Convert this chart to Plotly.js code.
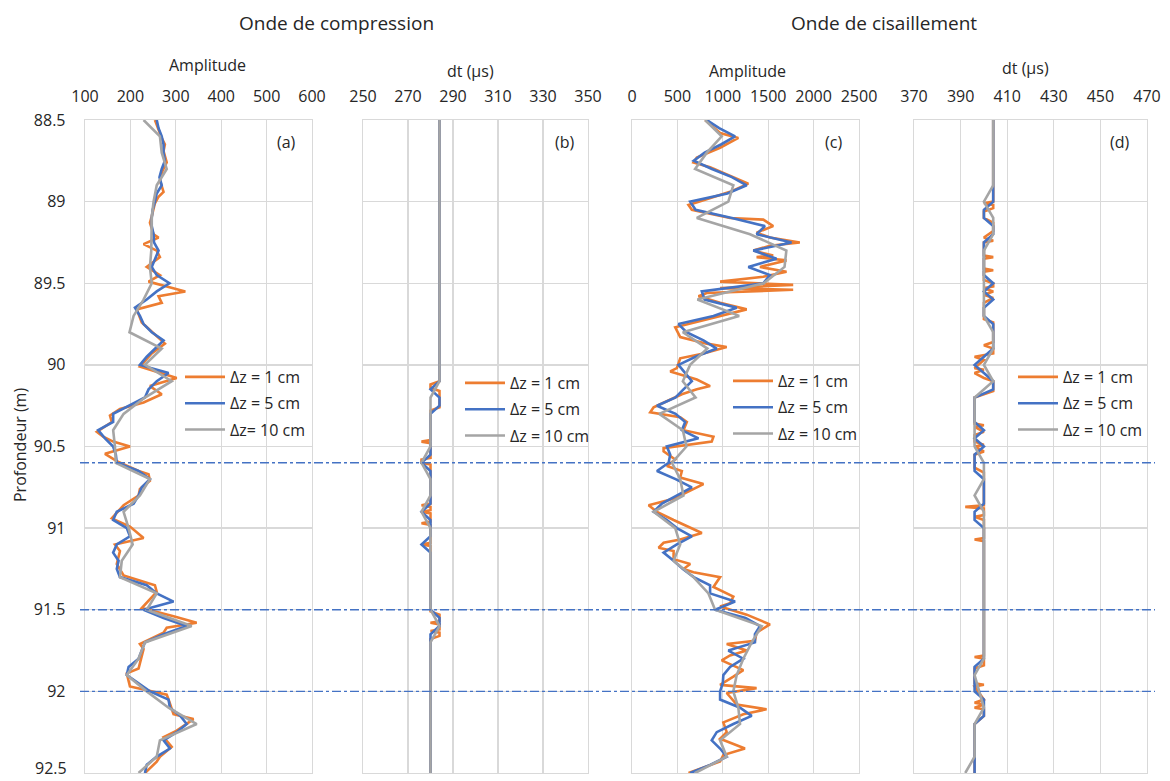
<!DOCTYPE html>
<html>
<head>
<meta charset="utf-8">
<script src="https://cdn.plot.ly/plotly-3.0.1.min.js"></script>
<style>html,body{margin:0;padding:0;background:#fff;}#chart{width:1170px;height:781px;}</style>
</head>
<body>
<div id="chart"></div>
<script>
// ---------- depths ----------
const depth5 = [88.50,88.55,88.60,88.65,88.70,88.75,88.80,88.85,88.90,88.95,89.00,89.05,89.10,89.15,89.20,89.25,89.30,89.35,89.40,89.45,89.50,89.55,89.60,89.65,89.70,89.75,89.80,89.85,89.90,89.95,90.00,90.05,90.10,90.15,90.20,90.25,90.30,90.35,90.40,90.45,90.50,90.55,90.60,90.65,90.70,90.75,90.80,90.85,90.90,90.95,91.00,91.05,91.10,91.15,91.20,91.25,91.30,91.35,91.40,91.45,91.50,91.55,91.60,91.65,91.70,91.75,91.80,91.85,91.90,91.95,92.00,92.05,92.10,92.15,92.20,92.25,92.30,92.35,92.40,92.45,92.50];
const depth10 = [88.5,88.6,88.7,88.8,88.9,89.0,89.1,89.2,89.3,89.4,89.5,89.6,89.7,89.8,89.9,90.0,90.1,90.2,90.3,90.4,90.5,90.6,90.7,90.8,90.9,91.0,91.1,91.2,91.3,91.4,91.5,91.6,91.7,91.8,91.9,92.0,92.1,92.2,92.3,92.4,92.5];

// ---------- (a) P-wave amplitude ----------
const ampP_1cm_depth = [88.50,88.56,88.61,88.65,88.69,88.76,88.81,88.87,88.94,88.97,89.01,89.09,89.13,89.20,89.22,89.26,89.30,89.34,89.40,89.45,89.49,89.52,89.55,89.58,89.62,89.66,89.74,89.87,89.93,90.01,90.08,90.13,90.18,90.23,90.27,90.31,90.35,90.41,90.44,90.47,90.50,90.545,90.59,90.65,90.67,90.71,90.76,90.80,90.86,90.94,90.99,91.06,91.10,91.14,91.22,91.29,91.35,91.39,91.49,91.54,91.58,91.61,91.64,91.71,91.74,91.86,91.89,91.97,92.02,92.05,92.14,92.17,92.24,92.28,92.34,92.40,92.43,92.49,92.50];
const ampP_1cm = [254,262,269,276,273,280,271,265,273,262,254,247,243,251,262,229,258,265,236,265,240,280,321,262,269,214,225,276,247,221,302,243,269,229,177,155,159,126,140,162,199,144,170,218,240,243,221,218,185,159,199,229,166,177,170,185,254,258,225,295,346,280,273,221,229,218,192,199,280,284,295,339,302,273,291,265,258,236,232];
const ampP_5cm = [258,262,269,273,273,276,269,264,269,258,254,249,247,247,251,252,262,254,247,258,286,258,236,210,221,229,247,273,254,236,221,284,258,240,232,196,162,162,129,144,162,168,170,218,243,225,218,207,170,162,192,199,170,162,174,170,177,236,258,295,229,273,324,273,232,225,218,196,192,218,243,284,287,310,324,302,273,287,258,236,232];
const ampP_10cm = [229,265,269,280,258,251,247,247,246,243,247,229,207,198,269,232,291,232,185,162,166,168,243,221,185,196,205,181,177,258,236,335,232,218,192,236,284,346,265,258,218];

// ---------- (b) P-wave dt ----------
const dtP_1cm_depth = [88.50,90.10,90.12,90.14,90.16,90.26,90.28,90.46,90.47,90.48,90.57,90.58,90.60,90.61,90.85,90.86,90.87,90.89,90.90,90.91,90.96,90.97,90.98,91.09,91.10,91.11,91.51,91.53,91.57,91.58,91.59,91.62,91.63,91.64,91.66,91.68,92.50];
const dtP_1cm = [284,284,280,280,284,284,280,280,276,280,280,276,276,280,280,276,280,280,276,280,280,276,280,280,276,280,280,284,284,280,284,284,280,284,284,280,280];
const dtP_5cm = [284,284,284,284,284,284,284,284,284,284,284,284,284,284,284,284,284,284,284,284,284,284,284,284,284,284,284,284,284,284,284,284,284,280,284,284,280,280,280,280,280,280,276,280,280,280,280,280,276,280,280,280,276,280,280,280,280,280,280,280,280,284,284,280,280,280,280,280,280,280,280,280,280,280,280,280,280,280,280,280,280];
const dtP_10cm = [284,284,284,284,284,284,284,284,284,284,284,284,284,284,284,284,284,280,280,280,280,276,280,280,276,280,280,280,280,280,280,284,280,280,280,280,280,280,280,280,280];

// ---------- (c) S-wave amplitude ----------
const ampS_1cm_depth = [88.50,88.58,88.61,88.67,88.73,88.76,88.79,88.84,88.89,88.94,89.02,89.05,89.10,89.11,89.15,89.19,89.22,89.25,89.27,89.30,89.33,89.34,89.36,89.40,89.43,89.46,89.49,89.51,89.53,89.54,89.56,89.58,89.62,89.66,89.70,89.77,89.83,89.87,89.89,89.93,89.96,90.02,90.04,90.09,90.13,90.15,90.18,90.26,90.29,90.32,90.35,90.40,90.44,90.47,90.51,90.53,90.58,90.62,90.65,90.69,90.73,90.79,90.82,90.86,90.90,90.95,91.03,91.07,91.09,91.12,91.14,91.19,91.22,91.25,91.27,91.30,91.36,91.42,91.46,91.48,91.53,91.59,91.64,91.69,91.71,91.75,91.78,91.81,91.87,91.91,91.96,91.98,92.01,92.08,92.11,92.14,92.19,92.25,92.29,92.35,92.39,92.43,92.46,92.50];
const ampS_1cm = [805,970,1171,970,714,677,860,1080,1281,1080,622,659,1080,1446,1555,1372,1519,1848,1519,1336,1555,1372,1702,1409,1702,1446,970,1775,970,1775,823,732,970,1263,970,476,531,823,1043,787,531,494,421,714,860,714,549,238,201,531,604,567,897,878,348,348,476,384,549,531,787,567,458,183,275,458,769,531,348,293,458,458,641,567,677,970,897,1116,1080,970,1263,1519,1372,1354,1043,1263,1080,988,1226,1116,970,1372,1043,1153,1482,1226,1006,1043,970,1244,1006,970,823,622];
const ampS_5cm = [823,960,1135,980,800,680,880,1100,1263,1050,641,700,1100,1464,1372,1757,1336,1592,1281,1519,1446,769,800,1153,897,512,600,787,933,700,512,586,659,567,480,275,480,586,549,732,384,421,403,275,480,659,500,330,238,384,494,659,494,348,458,560,680,860,860,1135,915,1250,1409,1354,1354,1061,1226,1080,1006,1000,970,970,1190,1318,1116,933,878,970,1043,860,641];
const ampS_10cm = [805,988,824,695,1116,1061,714,1300,1700,1680,1450,720,1180,560,830,640,560,700,300,560,600,440,531,567,238,476,531,458,677,842,915,1428,1318,1226,1153,1116,1171,1190,970,1043,695];

// ---------- (d) S-wave dt ----------
const dtS_1cm_depth = [88.50,89.00,89.01,89.02,89.04,89.06,89.10,89.13,89.18,89.22,89.24,89.25,89.33,89.34,89.35,89.41,89.42,89.43,89.48,89.50,89.52,89.53,89.55,89.57,89.59,89.62,89.72,89.74,89.86,89.88,89.90,89.93,89.95,89.97,90.02,90.03,90.05,90.08,90.10,90.16,90.18,90.20,90.36,90.37,90.38,90.41,90.43,90.47,90.49,90.50,90.53,90.55,90.63,90.66,90.86,90.87,90.88,90.92,90.93,90.95,91.06,91.07,91.08,91.78,91.79,91.80,91.84,91.86,91.95,91.96,91.97,92.05,92.07,92.08,92.10,92.11,92.15,92.20,92.50];
const dtS_1cm = [404,404,400,404,404,400,400,404,404,400,404,400,400,404,400,400,404,400,400,404,404,400,404,400,404,400,400,404,404,400,404,404,396,400,396,400,396,400,404,404,400,396,396,400,396,400,396,396,400,396,400,396,396,400,400,392,400,400,396,400,400,396,400,400,396,400,400,396,396,400,396,400,396,400,396,400,400,396,396];
const dtS_5cm = [404,404,404,404,404,404,404,404,404,404,404,400,400,404,404,400,400,400,400,400,404,400,404,400,400,404,404,404,404,400,396,400,404,404,396,396,396,396,400,396,400,396,396,396,400,400,400,400,396,396,400,400,400,400,400,400,400,400,400,400,400,400,400,400,400,400,400,396,396,396,396,400,400,400,396,396,396,396,396,396,396];
const dtS_10cm = [404,404,404,404,404,400,404,404,400,400,400,400,400,404,404,400,404,396,396,396,396,400,400,396,400,400,400,400,400,400,400,400,400,400,396,398,400,396,396,396,392];

// ---------- labels / ticks ----------
const seriesNames = ['Δz = 1 cm', 'Δz = 5 cm', 'Δz = 10 cm'];
const seriesNamesA = ['Δz = 1 cm', 'Δz = 5 cm', 'Δz= 10 cm'];
const seriesColors = ['#ED7D31', '#4472C4', '#A5A5A5'];
const depthTicks = [88.5, 89, 89.5, 90, 90.5, 91, 91.5, 92, 92.5];
const depthTickText = ['88.5', '89', '89.5', '90', '90.5', '91', '91.5', '92', '92.5'];
const ticksA = [100, 200, 300, 400, 500, 600];
const ticksB = [250, 270, 290, 310, 330, 350];
const ticksC = [0, 500, 1000, 1500, 2000, 2500];
const ticksD = [370, 390, 410, 430, 450, 470];
const boundaryDepths = [90.6, 91.5, 92.0];
const groupTitles = ['Onde de compression', 'Onde de cisaillement'];
const axisTitles = ['Amplitude', 'dt (µs)', 'Amplitude', 'dt (µs)'];
const panelLabels = ['(a)', '(b)', '(c)', '(d)'];
const depthTitle = 'Profondeur (m)';

// ---------- build ----------
const W = 1170, H = 781;
const px = v => v / W;
const py = v => 1 - v / H;
const FONT = 'Open Sans, Noto Sans, sans-serif';
const TXT = '#262626';
const GRID = '#D9D9D9';

const panels = [
  {ax: 'x',  leg: 'legend',  names: seriesNamesA,
   sets: [[ampP_1cm, ampP_1cm_depth], [ampP_5cm, depth5], [ampP_10cm, depth10]]},
  {ax: 'x2', leg: 'legend2', names: seriesNames,
   sets: [[dtP_1cm, dtP_1cm_depth], [dtP_5cm, depth5], [dtP_10cm, depth10]]},
  {ax: 'x3', leg: 'legend3', names: seriesNames,
   sets: [[ampS_1cm, ampS_1cm_depth], [ampS_5cm, depth5], [ampS_10cm, depth10]]},
  {ax: 'x4', leg: 'legend4', names: seriesNames,
   sets: [[dtS_1cm, dtS_1cm_depth], [dtS_5cm, depth5], [dtS_10cm, depth10]]}
];

const traces = [];
panels.forEach((p, pi) => {
  p.sets.forEach((s, si) => {
    traces.push({
      type: 'scatter', mode: 'lines',
      x: s[0], y: s[1],
      xaxis: p.ax, yaxis: 'y',
      name: p.names[si],
      legend: p.leg,
      legendgroup: 'g' + pi + '_' + si,
      line: {color: seriesColors[si], width: 2.6},
      hoverinfo: 'skip'
    });
  });
});

function xAxis(dom, ticks) {
  return {
    domain: dom, side: 'top', anchor: 'y',
    range: [ticks[0], ticks[ticks.length - 1]],
    tickvals: ticks, ticktext: ticks.map(String),
    showgrid: true, gridcolor: GRID, gridwidth: 1.3,
    zeroline: false,
    showline: true, linecolor: GRID, linewidth: 1.3, mirror: true,
    ticks: '', ticklabelstandoff: 10, ticklabeloverflow: 'allow',
    tickfont: {family: FONT, size: 16, color: TXT},
    fixedrange: true
  };
}

function legendAt(xp, yp) {
  return {
    x: px(xp), y: py(yp), xanchor: 'left', yanchor: 'top',
    bgcolor: 'rgba(0,0,0,0)', borderwidth: 0,
    font: {family: FONT, size: 16, color: TXT},
    tracegroupgap: 2.5, traceorder: 'grouped', itemwidth: 40
  };
}

const ann = [];
function addText(text, xp, yp, size, extra) {
  ann.push(Object.assign({
    text: text, xref: 'paper', yref: 'paper', x: px(xp), y: py(yp),
    xanchor: 'center', yanchor: 'middle', showarrow: false,
    font: {family: FONT, size: size, color: TXT}
  }, extra || {}));
}
addText(groupTitles[0], 336, 23, 19);
addText(groupTitles[1], 884, 23, 19);
addText(axisTitles[0], 207, 65, 16);
addText(axisTitles[1], 470, 71, 16);
addText(axisTitles[2], 748, 71, 16);
addText(axisTitles[3], 1025, 68, 16);
addText(panelLabels[0], 286, 142, 16);
addText(panelLabels[1], 565, 142, 16);
addText(panelLabels[2], 833, 142, 16);
addText(panelLabels[3], 1120, 142, 16);
addText(depthTitle, 20, 445, 16, {textangle: -90});

// bottom depth label sits on the figure edge: place it as a text aligned to the bottom
const lastIdx = depthTicks.length - 1;
ann.push({
  text: depthTickText[lastIdx], xref: 'paper', yref: 'paper',
  x: px(69), y: 0, xanchor: 'right', yanchor: 'bottom', showarrow: false,
  font: {family: FONT, size: 16, color: TXT}
});

const shapes = boundaryDepths.map(d => ({
  type: 'line', xref: 'paper', yref: 'y',
  x0: px(80), x1: px(1155), y0: d, y1: d,
  line: {color: '#4472C4', width: 1.4, dash: 'dashdot'}
}));

const layout = {
  width: W, height: H,
  margin: {l: 0, r: 0, t: 0, b: 0, autoexpand: false},
  paper_bgcolor: '#fff', plot_bgcolor: '#fff',
  font: {family: FONT, color: TXT},
  xaxis:  xAxis([px(85),  px(312)],  ticksA),
  xaxis2: xAxis([px(363), px(588)],  ticksB),
  xaxis3: xAxis([px(632), px(859)],  ticksC),
  xaxis4: xAxis([px(914), px(1147)], ticksD),
  yaxis: {
    domain: [py(773), py(120)], anchor: 'x',
    range: [92.5, 88.5],
    tickvals: depthTicks, ticktext: depthTickText.map((t, i) => i === lastIdx ? '' : t),
    showgrid: true, gridcolor: GRID, gridwidth: 1.3,
    zeroline: false,
    showline: true, linecolor: GRID, linewidth: 1.3, mirror: 'all',
    ticks: '', ticklabelstandoff: 15, ticklabeloverflow: 'allow',
    tickfont: {family: FONT, size: 16, color: TXT},
    fixedrange: true
  },
  showlegend: true,
  legend:  legendAt(180, 360),
  legend2: legendAt(460, 366),
  legend3: legendAt(728, 364),
  legend4: legendAt(1013, 360),
  annotations: ann,
  shapes: shapes
};

Plotly.newPlot('chart', traces, layout, {staticPlot: true, displayModeBar: false});
</script>
</body>
</html>
